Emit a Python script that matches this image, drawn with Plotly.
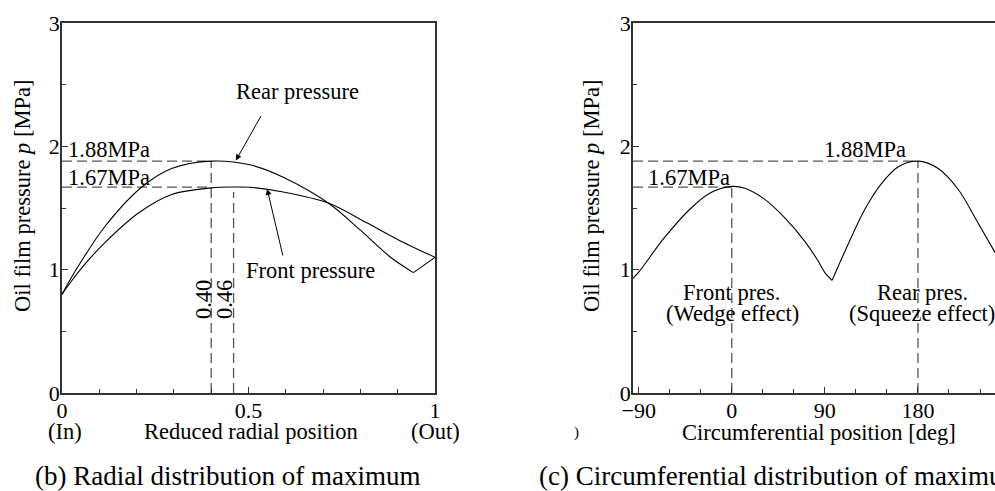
import plotly.graph_objects as go

W, H = 995, 491
FONT = "Liberation Serif"

# ---- data: panel (b) radial distribution ----
rear_x = [0, 0.026, 0.048, 0.115, 0.214, 0.294, 0.40, 0.504, 0.593, 0.714, 0.80, 0.879, 0.942]
rear_p = [0.80, 0.94, 1.05, 1.35, 1.67, 1.82, 1.88, 1.85, 1.75, 1.54, 1.32, 1.105, 0.976]
rear_tail_x = [0.942, 1.0]
rear_tail_p = [0.976, 1.10]
front_x = [0, 0.026, 0.062, 0.115, 0.205, 0.294, 0.40, 0.46, 0.504, 0.593, 0.714, 0.817, 0.906, 1.0]
front_p = [0.80, 0.91, 1.047, 1.22, 1.46, 1.61, 1.663, 1.67, 1.668, 1.63, 1.54, 1.38, 1.235, 1.10]
rear_peak = (0.40, 1.88)
front_peak = (0.46, 1.67)

# ---- data: panel (c) circumferential distribution ----
circ_a_deg = [-95.5, -89, -66.5, -40.6, -21.3, 0, 12.6, 31.9, 51.3, 70.6, 83.5, 90, 97]
circ_a_p = [0.93, 0.99, 1.245, 1.49, 1.62, 1.675, 1.66, 1.57, 1.42, 1.23, 1.07, 0.976, 0.913]
circ_b_deg = [97, 110, 128.7, 144.9, 161, 180, 199.6, 219, 238, 254.5]
circ_b_p = [0.913, 1.16, 1.49, 1.70, 1.835, 1.88, 1.82, 1.65, 1.38, 1.14]
front_deg, front_max = 0, 1.67
rear_deg, rear_max = 180, 1.88

fig = go.Figure()

def curve(x, y, xa="x", ya="y", shape="spline"):
    fig.add_trace(go.Scatter(x=x, y=y, mode="lines", xaxis=xa, yaxis=ya,
                             line=dict(color="black", width=1.1, shape=shape, smoothing=0.9),
                             hoverinfo="skip", showlegend=False))

def dashed(x, y, xa="x", ya="y"):
    fig.add_trace(go.Scatter(x=x, y=y, mode="lines", xaxis=xa, yaxis=ya,
                             line=dict(color="#555555", width=1.3, dash="10px,5px"),
                             hoverinfo="skip", showlegend=False))

# panel b
dashed([0, rear_peak[0]], [rear_peak[1], rear_peak[1]])
dashed([0, rear_peak[0]], [front_peak[1], front_peak[1]])
dashed([rear_peak[0], rear_peak[0]], [0, rear_peak[1]])
dashed([front_peak[0], front_peak[0]], [0, 1.63])
curve(rear_x, rear_p)
curve(rear_tail_x, rear_tail_p, shape="linear")
curve(front_x, front_p)

# panel c
dashed([-95.5, rear_deg], [rear_max, rear_max], "x2", "y2")
dashed([-95.5, front_deg], [front_max, front_max], "x2", "y2")
dashed([front_deg, front_deg], [0, front_max], "x2", "y2")
dashed([rear_deg, rear_deg], [0, rear_max], "x2", "y2")
curve(circ_a_deg, circ_a_p, "x2", "y2")
curve(circ_b_deg, circ_b_p, "x2", "y2")

def px_x(px):
    return px / W

def px_y(py):
    return 1 - py / H

axis_common = dict(showline=True, linecolor="#333333", linewidth=1.5, ticks="inside",
                   ticklen=6, tickwidth=1, tickcolor="#333333", showgrid=False, zeroline=False,
                   automargin=False,
                   tickfont=dict(family=FONT, size=22, color="black"))

ydom = [px_y(393), px_y(23)]
fig.update_layout(
    width=W, height=H, autosize=False,
    margin=dict(l=0, r=0, t=0, b=0, pad=0, autoexpand=False),
    paper_bgcolor="white", plot_bgcolor="white",
    xaxis=dict(domain=[px_x(62), px_x(435)], range=[0, 1], tickvals=[0, 0.5, 1],
               ticktext=["0", "0.5", "1"], mirror=True, anchor="y", ticklabelstandoff=-3,
               minor=dict(dtick=0.1, ticks="inside", ticklen=4, tickcolor="#333333"),
               **axis_common),
    yaxis=dict(domain=ydom, range=[0, 3], tickvals=[0, 1, 2, 3], mirror=True, anchor="x",
               ticklabelstandoff=-4,
               minor=dict(dtick=0.5, ticks="inside", ticklen=4, tickcolor="#333333"),
               **axis_common),
    xaxis2=dict(domain=[px_x(633), 1.0], range=[-95.5, 254.5], tickvals=[-90, 0, 90, 180],
                mirror=True, anchor="y2", ticklabelstandoff=-3,
                minor=dict(dtick=30, ticks="inside", ticklen=4, tickcolor="#333333"),
                **axis_common),
    yaxis2=dict(domain=ydom, range=[0, 3], tickvals=[0, 1, 2, 3], mirror=False, anchor="x2",
                ticklabelstandoff=-4,
                minor=dict(dtick=0.5, ticks="inside", ticklen=4, tickcolor="#333333"),
                **axis_common),
)

def text(t, x, y, size=22.5, xanchor="center", angle=0):
    fig.add_annotation(text=t, x=px_x(x), y=px_y(y), xref="paper", yref="paper",
                       xanchor=xanchor, yanchor="middle", showarrow=False, textangle=angle,
                       borderpad=0,
                       font=dict(family=FONT, size=size, color="black"))

# panel b texts
text("Rear pressure", 297, 92)
text("Front pressure", 310, 270)
text("1.88MPa", 67, 149, xanchor="left")
text("1.67MPa", 67, 177, xanchor="left")
text("0.40", 203, 300, angle=-90)
text("0.46", 224, 300, angle=-90)
text("(In)", 65, 431)
text("Reduced radial position", 251, 431)
text("(Out)", 435, 431)
text("Oil film pressure <i>p</i> [MPa]", 22, 196, angle=-90)
text("(b) Radial distribution of maximum", 227, 476, size=27)

# panel c texts
text("1.67MPa", 647, 177, xanchor="left")
text("1.88MPa", 865, 149)
text("Front pres.", 732, 292)
text("(Wedge effect)", 732, 313)
text("Rear pres.", 922, 292)
text("(Squeeze effect)", 922, 313)
text("Circumferential position [deg]", 819, 432)
text("Oil film pressure <i>p</i> [MPa]", 591, 196, angle=-90)
text(")", 576, 432, size=15)
text("(c) Circumferential distribution of maximu", 538, 476, size=27, xanchor="left")

# arrows
fig.add_annotation(x=0.466, y=1.885, xref="x", yref="y", ax=26, ay=-46, axref="pixel", ayref="pixel",
                   showarrow=True, arrowhead=2, arrowsize=1.2, arrowwidth=1, arrowcolor="black", text="")
fig.add_annotation(x=0.55, y=1.655, xref="x", yref="y", ax=16, ay=68, axref="pixel", ayref="pixel",
                   showarrow=True, arrowhead=2, arrowsize=1.2, arrowwidth=1, arrowcolor="black", text="")

fig.write_html("out.html")
